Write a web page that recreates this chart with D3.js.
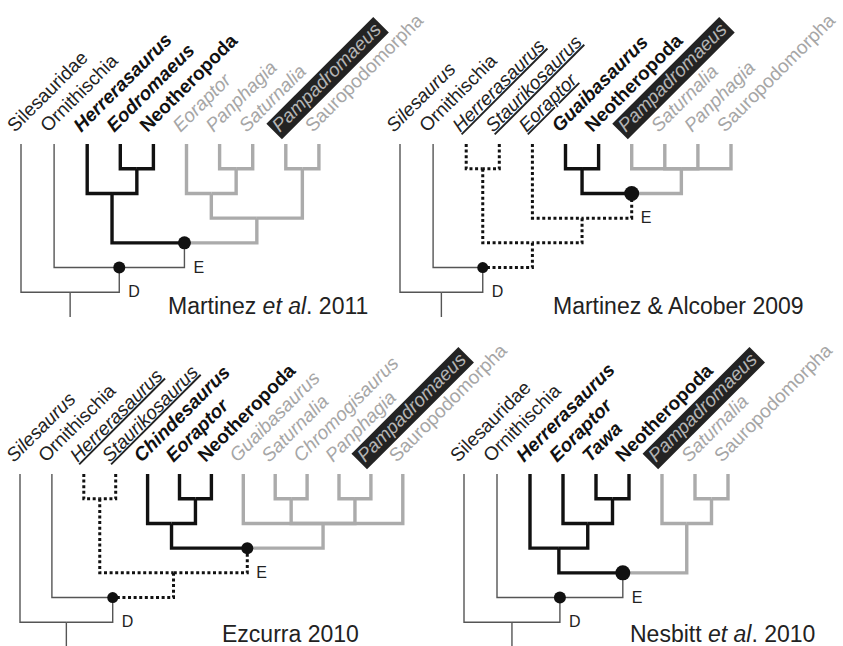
<!DOCTYPE html>
<html>
<head>
<meta charset="utf-8">
<script src="https://cdn.jsdelivr.net/npm/d3@7"></script>
<style>
  body { margin: 0; background: #fff; }
  svg { display: block; font-family: "Liberation Sans", Arial, sans-serif; }
  .tip { font-size: 19px; }
  .caption { font-size: 23px; fill: #222; }
  .node-label { font-size: 16px; fill: #222; }
</style>
</head>
<body>
<div id="chart"></div>
<script>
"use strict";

// Tips are listed left to right; trees are nested arrays of tip indices.
// Groups: out = outgroups, thero = theropod side, sauro = sauropodomorph side,
// unst = taxa whose position is unstable (dotted, underlined)

var martinez2011Taxa = ["Silesauridae", "Ornithischia", "Herrerasaurus", "Eodromaeus", "Neotheropoda",
  "Eoraptor", "Panphagia", "Saturnalia", "Pampadromaeus", "Sauropodomorpha"];
var martinez2011Groups = ["out", "out", "thero", "thero", "thero", "sauro", "sauro", "sauro", "sauro", "sauro"];
var martinez2011Tree = [0, [1, [[2, [3, 4]], [[5, [6, 7]], [8, 9]]]]];
var martinez2011Caption = ["Martinez ", "et al", ". 2011"];

var alcober2009Taxa = ["Silesaurus", "Ornithischia", "Herrerasaurus", "Staurikosaurus", "Eoraptor",
  "Guaibasaurus", "Neotheropoda", "Pampadromaeus", "Saturnalia", "Panphagia", "Sauropodomorpha"];
var alcober2009Groups = ["out", "out", "unst", "unst", "unst", "thero", "thero", "sauro", "sauro", "sauro", "sauro"];
var alcober2009Tree = [0, [1, [[2, 3], [4, [[5, 6], [7, 8, 9, 10]]]]]];
var alcober2009Caption = ["Martinez & Alcober 2009"];

var ezcurra2010Taxa = ["Silesaurus", "Ornithischia", "Herrerasaurus", "Staurikosaurus", "Chindesaurus",
  "Eoraptor", "Neotheropoda", "Guaibasaurus", "Saturnalia", "Chromogisaurus", "Panphagia",
  "Pampadromaeus", "Sauropodomorpha"];
var ezcurra2010Groups = ["out", "out", "unst", "unst", "thero", "thero", "thero",
  "sauro", "sauro", "sauro", "sauro", "sauro", "sauro"];
var ezcurra2010Tree = [0, [1, [[2, 3], [[4, [5, 6]], [7, [8, 9], [10, 11], 12]]]]];
var ezcurra2010Caption = ["Ezcurra 2010"];

var nesbitt2010Taxa = ["Silesauridae", "Ornithischia", "Herrerasaurus", "Eoraptor", "Tawa",
  "Neotheropoda", "Pampadromaeus", "Saturnalia", "Sauropodomorpha"];
var nesbitt2010Groups = ["out", "out", "thero", "thero", "thero", "thero", "sauro", "sauro", "sauro"];
var nesbitt2010Tree = [0, [1, [[2, [3, [4, 5]]], [6, [7, 8]]]]];
var nesbitt2010Caption = ["Nesbitt ", "et al", ". 2010"];

var higherTaxa = ["Silesauridae", "Ornithischia", "Neotheropoda", "Sauropodomorpha"];
var focusTaxon = "Pampadromaeus";

//line styles for each group
var lineStyle = {
  out:   { stroke: "#555", width: 1.4, dash: null },
  sauro: { stroke: "#ababab", width: 3.4, dash: null },
  thero: { stroke: "#111", width: 3.4, dash: null },
  unst:  { stroke: "#111", width: 3, dash: "3,2.6" }
};
var drawOrder = ["out", "sauro", "unst", "thero"];

function cladogram(svg, p) {
  var n = p.taxa.length;

  var xScale = d3.scaleLinear()
    .domain([0, n - 1])
    .range([p.x0, p.x0 + (n - 1) * p.step]);

  //levels: 0 = tips, 6 = root, 7 = end of root stem
  var yScale = d3.scaleLinear()
    .domain([0, 7])
    .range([p.top, p.top + 173]);

  var root = d3.hierarchy(p.tree, function (d) { return Array.isArray(d) ? d : null; });

  root.eachAfter(function (node) {
    if (!node.children) {
      node.px = xScale(node.data);
      node.group = p.groups[node.data];
    } else {
      var kids = node.children;
      node.px = (kids[0].px + kids[kids.length - 1].px) / 2;
      var gs = Array.from(new Set(node.leaves().map(function (l) { return p.groups[l.data]; })));
      node.group = gs.length === 1 ? gs[0] : "mixed";
    }
  });

  function edgeGroup(node) {
    if (node.group !== "mixed") return node.group;
    var par = node.parent;
    var unsure = par.leaves().some(function (l) { return p.groups[l.data] === "unst"; });
    return (par !== root && unsure) ? "unst" : "out";
  }

  var edges = root.descendants().filter(function (d) { return d.parent; });
  edges.forEach(function (d) { d.edge = edgeGroup(d); });
  edges.sort(function (a, b) { return drawOrder.indexOf(a.edge) - drawOrder.indexOf(b.edge); });

  var g = svg.append("g");

  //root stem
  g.append("path")
    .attr("d", "M" + root.px + "," + yScale(root.height) + "V" + yScale(7))
    .attr("fill", "none")
    .attr("stroke", lineStyle.out.stroke)
    .attr("stroke-width", lineStyle.out.width);

  g.selectAll("path.branch")
    .data(edges)
    .enter()
    .append("path")
    .attr("class", "branch")
    .attr("d", function (d) {
      return "M" + d.px + "," + yScale(d.height) +
        "V" + yScale(d.parent.height) + "H" + d.parent.px;
    })
    .attr("fill", "none")
    .attr("stroke", function (d) { return lineStyle[d.edge].stroke; })
    .attr("stroke-width", function (d) { return lineStyle[d.edge].width; })
    .attr("stroke-dasharray", function (d) { return lineStyle[d.edge].dash; });

  //Dinosauria (D) and Eusaurischia (E) nodes
  function tip(name) {
    return root.leaves().find(function (l) { return p.taxa[l.data] === name; });
  }
  function lca(a, b) {
    var anc = a.ancestors();
    return b.ancestors().find(function (x) { return anc.indexOf(x) >= 0; });
  }
  var nodeD = lca(tip("Ornithischia"), tip("Neotheropoda"));
  var nodeE = lca(tip("Neotheropoda"), tip("Sauropodomorpha"));
  var marked = [{ node: nodeD, label: "D", r: p.rD }, { node: nodeE, label: "E", r: p.rE }];

  g.selectAll("circle.node")
    .data(marked)
    .enter()
    .append("circle")
    .attr("class", "node")
    .attr("cx", function (d) { return d.node.px; })
    .attr("cy", function (d) { return yScale(d.node.height); })
    .attr("r", function (d) { return d.r; })
    .attr("fill", "#111");

  g.selectAll("text.node-label")
    .data(marked)
    .enter()
    .append("text")
    .attr("class", "node-label")
    .attr("x", function (d) { return d.node.px + 9; })
    .attr("y", function (d) { return yScale(d.node.parent.height) + 5; })
    .text(function (d) { return d.label; });

  //tip labels, slanted
  var labels = g.selectAll("g.tip")
    .data(root.leaves())
    .enter()
    .append("g")
    .attr("class", "tip")
    .attr("transform", function (d) {
      return "translate(" + (d.px - 6) + "," + (p.top - 11) + ") rotate(-45)";
    });

  labels.each(function (d) {
    var name = p.taxa[d.data];
    var grp = p.groups[d.data];
    var sel = d3.select(this);
    var t = sel.append("text")
      .text(name)
      .attr("font-style", higherTaxa.indexOf(name) >= 0 ? "normal" : "italic")
      .attr("font-weight", grp === "thero" ? "bold" : "normal")
      .attr("fill", grp === "sauro" ? "#a6a6a6" : (grp === "thero" ? "#111" : "#222"));
    if (grp === "unst") t.style("text-decoration", "underline");
    if (name === focusTaxon) {
      var bb = t.node().getBBox();
      sel.insert("rect", "text")
        .attr("x", bb.x - 3)
        .attr("y", bb.y + 1)
        .attr("width", bb.width + 6)
        .attr("height", bb.height + 1)
        .attr("fill", "#232323");
      t.attr("fill", "#b4b4b4");
    }
  });

  //caption, every second part italic
  var cap = g.append("text")
    .attr("class", "caption")
    .attr("x", p.capX)
    .attr("y", p.capY);
  cap.selectAll("tspan")
    .data(p.caption)
    .enter()
    .append("tspan")
    .attr("font-style", function (d, i) { return i % 2 ? "italic" : "normal"; })
    .text(function (d) { return d; });
}

function init() {
  var w = 843;
  var h = 646;

  var svg = d3.select("#chart")
    .append("svg")
    .attr("width", w)
    .attr("height", h);

  svg.append("rect").attr("width", w).attr("height", h).attr("fill", "#fff");

  cladogram(svg, { taxa: martinez2011Taxa, groups: martinez2011Groups, tree: martinez2011Tree,
    caption: martinez2011Caption, x0: 21, step: 33.1, top: 144, capX: 168, capY: 314, rD: 6, rE: 6.5 });
  cladogram(svg, { taxa: alcober2009Taxa, groups: alcober2009Groups, tree: alcober2009Tree,
    caption: alcober2009Caption, x0: 400, step: 33.1, top: 144, capX: 553, capY: 314, rD: 5.5, rE: 7.5 });
  cladogram(svg, { taxa: ezcurra2010Taxa, groups: ezcurra2010Groups, tree: ezcurra2010Tree,
    caption: ezcurra2010Caption, x0: 20, step: 31.9, top: 474, capX: 222, capY: 642, rD: 5.5, rE: 6 });
  cladogram(svg, { taxa: nesbitt2010Taxa, groups: nesbitt2010Groups, tree: nesbitt2010Tree,
    caption: nesbitt2010Caption, x0: 464, step: 33, top: 474, capX: 630, capY: 642, rD: 6, rE: 7.5 });
}

window.onload = init;
</script>
</body>
</html>
